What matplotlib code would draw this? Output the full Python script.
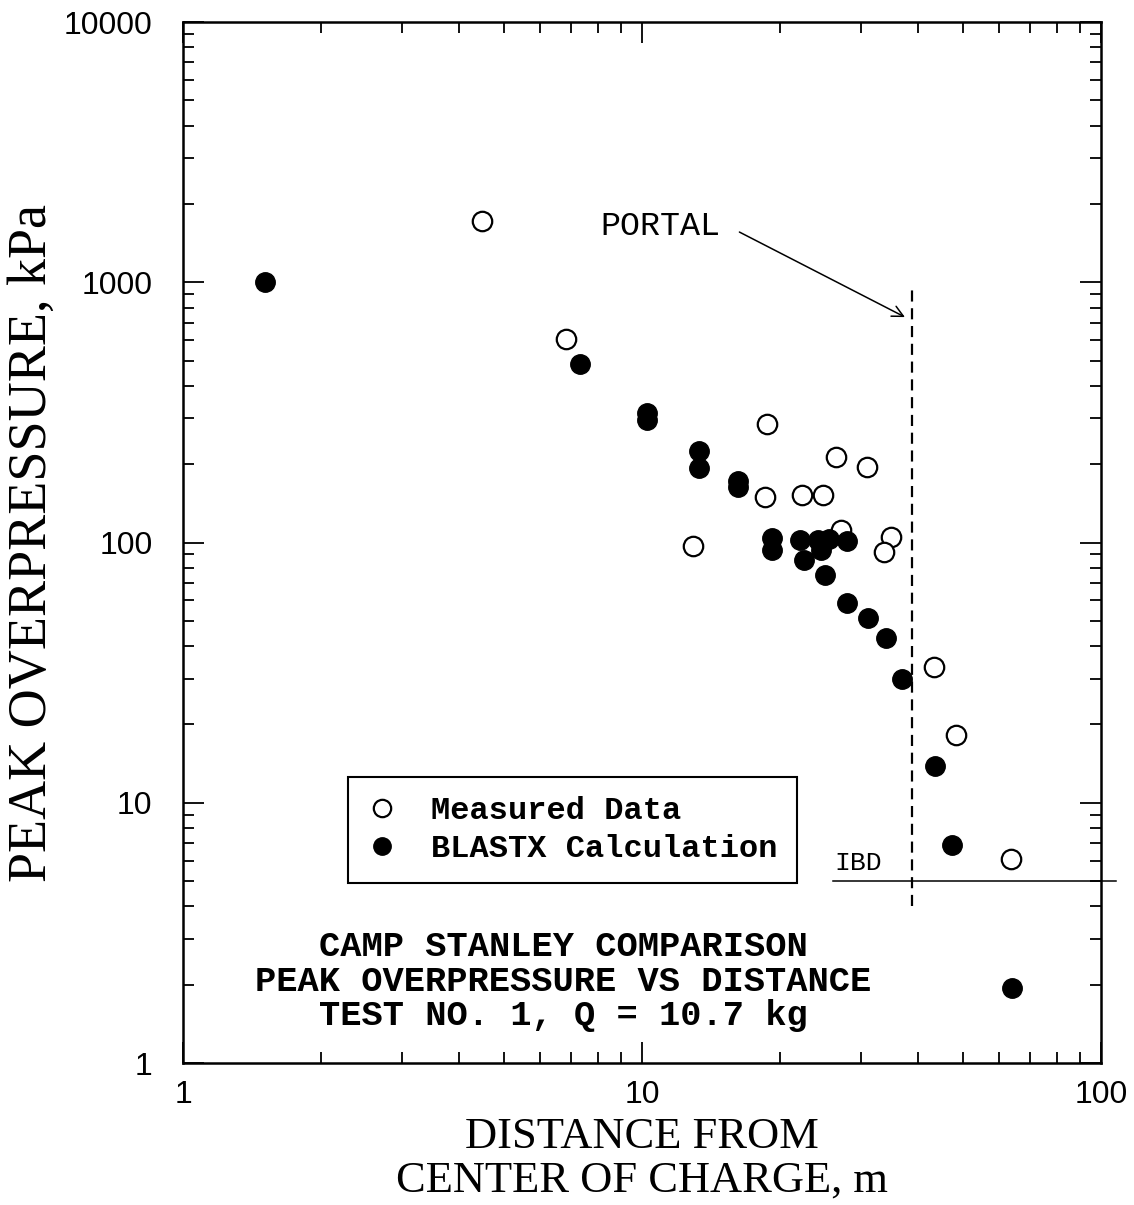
import matplotlib.pyplot as plt
from matplotlib.lines import Line2D
from matplotlib.ticker import FixedLocator, FixedFormatter, LogLocator, NullFormatter

# measured peak overpressure (open circles)
meas_dist = [4.48, 6.83, 18.7, 18.5, 12.9, 22.3, 24.8, 26.5, 30.9, 27.1, 34.9, 33.7, 43.3, 48.3, 63.7]
meas_kpa = [1720, 605, 285, 150, 97, 152, 152, 213, 195, 112, 105, 92, 33.2, 18.2, 6.1]

# BLASTX calculation (filled circles)
calc_dist = [1.51, 7.33, 10.25, 10.25, 13.3, 13.3, 16.2, 16.2, 19.2, 19.2, 22.1, 22.5,
             24.2, 25.5, 24.6, 27.9, 25.0, 27.9, 31.1, 34.0, 36.9, 43.5, 47.4, 63.9]
calc_kpa = [1000, 485, 314, 296, 225, 193, 173, 164, 104, 94, 102, 86,
            102, 103, 94, 101, 75, 58.7, 51.1, 42.8, 29.9, 13.8, 6.9, 1.94]

portal_dist = 38.7
portal_range = [4.0, 950]
ibd_kpa = 5.0
ibd_range = [26.1, 108]

serif = "Liberation Serif"
mono = "Liberation Mono"

fig = plt.figure(figsize=(11.34, 12.05), dpi=100)
ax = fig.add_axes([0.1614, 0.1178, 0.8095, 0.8639])
ax.set_xscale("log")
ax.set_yscale("log")
ax.set_xlim(1, 100)
ax.set_ylim(1, 10000)

ax.plot(meas_dist, meas_kpa, "o", ms=14, mfc="white", mec="black", mew=1.6, ls="none")
ax.plot(calc_dist, calc_kpa, "o", ms=14, mfc="black", mec="black", mew=1.0, ls="none")

# portal location and inhabited building distance
ax.plot([portal_dist, portal_dist], portal_range, color="black", lw=1.6, ls=(0, (5, 3)))
ax.plot(ibd_range, [ibd_kpa, ibd_kpa], color="black", lw=1.1, clip_on=False)
ax.text(26.2, 5.3, "IBD", fontsize=19, family=mono, ha="left", va="bottom")
ax.text(10.95, 1645, "PORTAL", fontsize=24, family=mono, ha="center", va="center")
ax.annotate("", xy=(37.4, 735), xytext=(16.3, 1560),
            arrowprops=dict(arrowstyle="->", lw=1.1, color="black",
                            shrinkA=0, shrinkB=0, mutation_scale=20))

ax.text(0.414, 0.0788, "CAMP STANLEY COMPARISON\nPEAK OVERPRESSURE VS DISTANCE\nTEST NO. 1, Q = 10.7 kg",
        transform=ax.transAxes, ha="center", va="center", fontsize=25.5, family=mono,
        fontweight="bold", linespacing=1.05)

handles = [
    Line2D([], [], marker="o", ls="none", ms=12.5, mfc="white", mec="black", mew=1.6),
    Line2D([], [], marker="o", ls="none", ms=12.5, mfc="black", mec="black"),
]
leg = ax.legend(handles, ["Measured Data", "BLASTX Calculation"], loc="lower left",
                bbox_to_anchor=(0.1797, 0.1729), borderaxespad=0, frameon=True,
                fancybox=False, edgecolor="black", framealpha=1,
                prop={"family": mono, "weight": "bold", "size": 23},
                handlelength=0.9, handletextpad=1.1, borderpad=0.6, labelspacing=0.25)
leg.get_frame().set_linewidth(1.5)

# axes, ticks
for s in ax.spines.values():
    s.set_linewidth(1.8)
ax.xaxis.set_major_locator(FixedLocator([1, 10, 100]))
ax.xaxis.set_major_formatter(FixedFormatter(["1", "10", "100"]))
ax.yaxis.set_major_locator(FixedLocator([1, 10, 100, 1000, 10000]))
ax.yaxis.set_major_formatter(FixedFormatter(["1", "10", "100", "1000", "10000"]))
ax.xaxis.set_minor_locator(LogLocator(base=10, subs=range(2, 10)))
ax.yaxis.set_minor_locator(LogLocator(base=10, subs=range(2, 10)))
ax.xaxis.set_minor_formatter(NullFormatter())
ax.yaxis.set_minor_formatter(NullFormatter())
ax.tick_params(which="both", direction="in", top=True, right=True, width=1.3)
ax.tick_params(which="major", length=15)
ax.tick_params(which="minor", length=8)
ax.tick_params(axis="x", which="major", pad=12, labelsize=23)
ax.tick_params(axis="y", which="major", pad=22, labelsize=23)
for lab in ax.get_xticklabels() + ax.get_yticklabels():
    lab.set_family("Liberation Sans")

ax.set_xlabel("DISTANCE FROM\nCENTER OF CHARGE, m", fontsize=32, family=serif,
              linespacing=1.12, labelpad=5)
ax.set_ylabel("PEAK OVERPRESSURE, kPa", fontsize=39, family=serif, labelpad=4)

fig.savefig("out.png", dpi=100)
